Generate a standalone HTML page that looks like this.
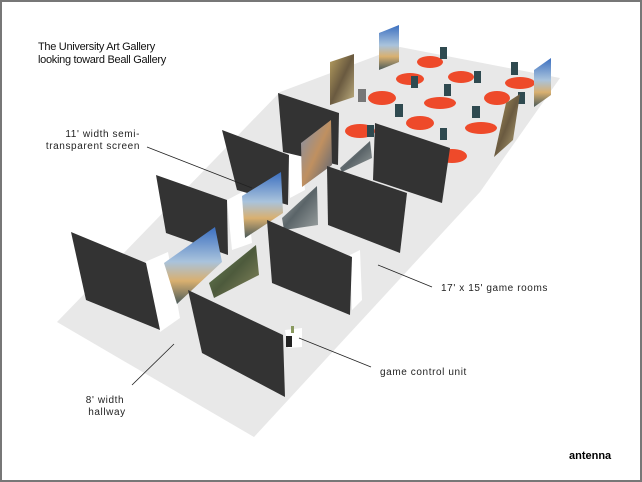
<!DOCTYPE html>
<html><head><meta charset="utf-8"><style>
html,body{margin:0;padding:0;background:#fff}
body{width:642px;height:482px;overflow:hidden;position:relative}
svg{position:absolute;left:0;top:0}
.t{font-family:"Liberation Sans",sans-serif;font-size:10px;fill:#222;letter-spacing:0.6px}
</style></head><body>
<svg width="642" height="482" viewBox="0 0 642 482" xmlns="http://www.w3.org/2000/svg">
<defs>
<linearGradient id="sky" x1="0" y1="0" x2="0" y2="1"><stop offset="0" stop-color="#3b6fc0"/><stop offset="0.45" stop-color="#a9c3dc"/><stop offset="0.7" stop-color="#d9b070"/><stop offset="1" stop-color="#4a5a5a"/></linearGradient>
<linearGradient id="grn" x1="0" y1="0" x2="1" y2="1"><stop offset="0" stop-color="#6f8a5a"/><stop offset="0.5" stop-color="#4d5a3c"/><stop offset="1" stop-color="#8a8a60"/></linearGradient>
<linearGradient id="gry" x1="0" y1="0" x2="1" y2="1"><stop offset="0" stop-color="#b8bcbc"/><stop offset="0.5" stop-color="#5a6468"/><stop offset="1" stop-color="#9aa0a0"/></linearGradient>
<linearGradient id="mix" x1="0" y1="0" x2="1" y2="1"><stop offset="0" stop-color="#7d8fb0"/><stop offset="0.5" stop-color="#c09060"/><stop offset="1" stop-color="#506078"/></linearGradient>
<linearGradient id="art" x1="0" y1="0" x2="1" y2="1"><stop offset="0" stop-color="#b8a060"/><stop offset="0.5" stop-color="#6a5a40"/><stop offset="1" stop-color="#c0b080"/></linearGradient>
</defs>
<rect x="1" y="1" width="640" height="480" fill="#fff" stroke="#777" stroke-width="2"/>
<!-- floor -->
<polygon points="57,322 254,437 480,192 560,78 400,47 280,92 57,322" fill="#e8e8e8"/>
<!-- red tables -->
<g fill="#ee4a2a">
<ellipse cx="430" cy="62" rx="13" ry="6"/>
<ellipse cx="410" cy="79" rx="14" ry="6"/>
<ellipse cx="461" cy="77" rx="13" ry="6"/>
<ellipse cx="520" cy="83" rx="15" ry="6"/>
<ellipse cx="382" cy="98" rx="14" ry="7"/>
<ellipse cx="440" cy="103" rx="16" ry="6"/>
<ellipse cx="497" cy="98" rx="13" ry="7"/>
<ellipse cx="420" cy="123" rx="14" ry="7"/>
<ellipse cx="481" cy="128" rx="16" ry="6"/>
<ellipse cx="360" cy="131" rx="15" ry="7"/>
<ellipse cx="452" cy="156" rx="15" ry="7"/>
</g>
<!-- stools -->
<g fill="#2f4a50">
<rect x="440" y="47" width="7" height="12"/><rect x="411" y="76" width="7" height="12"/>
<rect x="474" y="71" width="7" height="12"/><rect x="444" y="84" width="7" height="12"/>
<rect x="358" y="89" width="8" height="13" fill="#777"/><rect x="511" y="62" width="7" height="13"/>
<rect x="518" y="92" width="7" height="12"/><rect x="395" y="104" width="8" height="13"/>
<rect x="472" y="106" width="8" height="12"/><rect x="440" y="128" width="7" height="12"/>
<rect x="367" y="125" width="7" height="12"/>
</g>
<!-- artworks -->
<polygon points="330,62 354,54 354,97 330,105" fill="url(#art)"/>
<polygon points="379,33 399,25 399,62 379,70" fill="url(#sky)"/>
<polygon points="534,70 551,58 551,95 534,107" fill="url(#sky)"/>
<polygon points="506,103 520,94 513,140 494,157" fill="url(#art)"/>
<!-- white frames -->
<g fill="#fff">
<polygon points="145,262 168,252 180,318 160,332"/>
<polygon points="227,200 246,190 252,243 232,250"/>
<polygon points="288,152 300,140 305,190 290,198"/>
<polygon points="350,255 360,250 362,300 352,310"/>
<polygon points="285,330 302,328 302,347 288,348"/>
</g>
<!-- back walls -->
<g fill="#333">
<polygon points="278,93 339,113 338,165 283,152"/>
<polygon points="222,130 289,155 288,205 237,190"/>
<polygon points="156,175 227,200 228,255 166,233"/>
</g>
<!-- screens -->
<polygon points="301,143 331,120 332,165 302,187" fill="url(#mix)"/>
<polygon points="340,168 370,141 372,158 342,172" fill="url(#gry)"/>
<polygon points="242,196 281,172 283,213 245,238" fill="url(#sky)"/>
<polygon points="282,218 317,186 318,225 284,230" fill="url(#gry)"/>
<polygon points="164,263 215,227 222,262 177,304" fill="url(#sky)"/>
<polygon points="209,283 256,245 259,275 214,298" fill="url(#grn)"/>
<!-- front walls -->
<g fill="#333">
<polygon points="375,123 450,148 442,203 373,180"/>
<polygon points="327,166 407,193 400,253 328,225"/>
<polygon points="267,220 352,257 350,315 272,283"/>
<polygon points="71,232 146,263 160,330 86,300"/>
<polygon points="188,290 283,335 285,397 202,353"/>
</g>
<!-- control unit -->
<rect x="286" y="336" width="6" height="11" fill="#222"/>
<rect x="291" y="326" width="3" height="7" fill="#8a9a60"/>
<!-- leader lines -->
<g stroke="#222" stroke-width="0.8">
<line x1="147" y1="147" x2="252" y2="188"/>
<line x1="432" y1="287" x2="378" y2="265"/>
<line x1="371" y1="367" x2="299" y2="338"/>
<line x1="132" y1="385" x2="174" y2="344"/>
</g>
<text x="38" y="50" font-family="Liberation Sans, sans-serif" font-size="11" fill="#111" letter-spacing="-0.3">The University Art Gallery</text>
<text x="38" y="63" font-family="Liberation Sans, sans-serif" font-size="11" fill="#111" letter-spacing="-0.3">looking toward Beall Gallery</text>
<text class="t" x="140" y="137" text-anchor="end">11' width semi-</text>
<text class="t" x="140" y="149" text-anchor="end">transparent screen</text>
<text class="t" x="441" y="291">17' x 15' game rooms</text>
<text class="t" x="380" y="375">game control unit</text>
<text class="t" x="105" y="403" text-anchor="middle">8' width</text>
<text class="t" x="107" y="415" text-anchor="middle">hallway</text>
<text x="569" y="459" font-family="Liberation Sans, sans-serif" font-size="11" font-weight="bold" fill="#000">antenna</text>
</svg>
</body></html>
